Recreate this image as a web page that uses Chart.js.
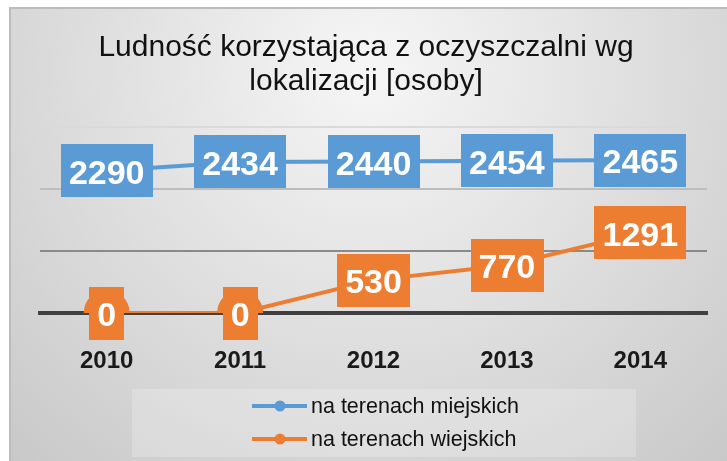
<!DOCTYPE html>
<html>
<head>
<meta charset="utf-8">
<script src="https://cdn.jsdelivr.net/npm/chart.js@4"></script>
<style>
  html, body { margin: 0; padding: 0; background: #fff; }
  #wrap { width: 727px; height: 461px; position: relative; }
</style>
</head>
<body>
<div id="wrap"><canvas id="chart"></canvas></div>
<script>
const years = ["2010", "2011", "2012", "2013", "2014"];
const urban = [2290, 2434, 2440, 2454, 2465];
const rural = [0, 0, 530, 770, 1291];
const seriesNames = ["na terenach miejskich", "na terenach wiejskich"];
const titleLines = ["Ludność korzystająca z oczyszczalni wg", "lokalizacji [osoby]"];

const BLUE = "#5b9bd5";
const ORANGE = "#ed7d31";

// Panel background: radial grey gradient with a thin border, like the Excel chart area.
const panelBg = {
  id: "panelBg",
  beforeDraw(chart) {
    const ctx = chart.ctx;
    const w = chart.width, h = chart.height;
    ctx.save();
    const g = ctx.createRadialGradient(370, 70, 0, 370, 70, 560);
    g.addColorStop(0, "#f6f6f6");
    g.addColorStop(1, "#c6c6c6");
    ctx.fillStyle = g;
    ctx.fillRect(9, 7, w - 9, h - 7);
    ctx.strokeStyle = "#bcbcbc";
    ctx.lineWidth = 2;
    ctx.beginPath();
    ctx.moveTo(10, h);
    ctx.lineTo(10, 8);
    ctx.lineTo(w, 8);
    ctx.stroke();
    ctx.restore();
  },
};

// Boxed data labels centred on each point.
const boxLabels = {
  id: "boxLabels",
  afterDatasetsDraw(chart) {
    const ctx = chart.ctx;
    ctx.save();
    ctx.font = "bold 34px 'Liberation Sans', Arial, sans-serif";
    ctx.textAlign = "center";
    ctx.textBaseline = "alphabetic";
    chart.data.datasets.forEach((ds, i) => {
      const meta = chart.getDatasetMeta(i);
      meta.data.forEach((pt, j) => {
        const txt = String(ds.data[j]);
        const tw = ctx.measureText(txt).width;
        const bw = tw + 16, bh = 53;
        ctx.fillStyle = ds.borderColor;
        ctx.fillRect(Math.round(pt.x - bw / 2), Math.round(pt.y - bh / 2), Math.round(bw), bh);
        ctx.fillStyle = "#ffffff";
        ctx.fillText(txt, pt.x, pt.y + 13);
      });
    });
    ctx.restore();
  },
};

// Two-row legend box under the axis.
const stackedLegend = {
  id: "stackedLegend",
  afterDraw(chart) {
    const ctx = chart.ctx;
    ctx.save();
    ctx.fillStyle = "rgba(255,255,255,0.22)";
    ctx.fillRect(132, 389, 504, 68);
    ctx.font = "21.5px 'Liberation Sans', Arial, sans-serif";
    ctx.textBaseline = "middle";
    ctx.textAlign = "left";
    chart.data.datasets.forEach((ds, i) => {
      const y = 406 + i * 33;
      ctx.strokeStyle = ds.borderColor;
      ctx.lineWidth = 4;
      ctx.beginPath();
      ctx.moveTo(252, y);
      ctx.lineTo(307, y);
      ctx.stroke();
      ctx.fillStyle = ds.borderColor;
      ctx.beginPath();
      ctx.arc(280, y, 5.5, 0, Math.PI * 2);
      ctx.fill();
      ctx.fillStyle = "#111";
      ctx.fillText(ds.label, 311, y + 1);
    });
    ctx.restore();
  },
};

function gridColor(c) {
  const v = c.tick && c.tick.value;
  if (v === 0) return "rgba(0,0,0,0)";
  if (v === 1000) return "#8a8a8a";
  if (v === 2000) return "#bdbdbd";
  return "#dadada";
}

new Chart(document.getElementById("chart"), {
  type: "line",
  data: {
    labels: years,
    datasets: [
      {
        label: seriesNames[0],
        data: urban,
        borderColor: BLUE,
        backgroundColor: BLUE,
        borderWidth: 4,
        pointRadius: 5,
        tension: 0,
      },
      {
        label: seriesNames[1],
        data: rural,
        borderColor: ORANGE,
        backgroundColor: ORANGE,
        borderWidth: 4,
        pointRadius: 21,
        tension: 0,
      },
    ],
  },
  options: {
    responsive: true,
    maintainAspectRatio: false,
    animation: false,
    layout: { autoPadding: false, padding: { left: 25, right: 20, top: 0, bottom: 78 } },
    plugins: {
      legend: { display: false },
      tooltip: { enabled: false },
      title: {
        display: true,
        text: titleLines,
        color: "#111",
        font: { family: "'Liberation Sans', Arial, sans-serif", size: 30, weight: "normal", lineHeight: 1.13 },
        padding: { top: 31, bottom: 28 },
      },
    },
    scales: {
      x: {
        offset: true,
        grid: { display: false, drawTicks: false },
        border: { display: true, color: "#404040", width: 4 },
        ticks: {
          color: "#1a1a1a",
          font: { family: "'Liberation Sans', Arial, sans-serif", size: 24, weight: "bold" },
          padding: 34,
        },
        afterFit(s) { s.height = 70; },
      },
      y: {
        min: 0,
        max: 3000,
        ticks: { display: false, stepSize: 1000 },
        border: { display: false },
        grid: { color: gridColor, lineWidth: 2, drawTicks: false },
        afterFit(s) { s.width = 15; },
      },
    },
  },
  plugins: [panelBg, boxLabels, stackedLegend],
});
</script>
</body>
</html>
